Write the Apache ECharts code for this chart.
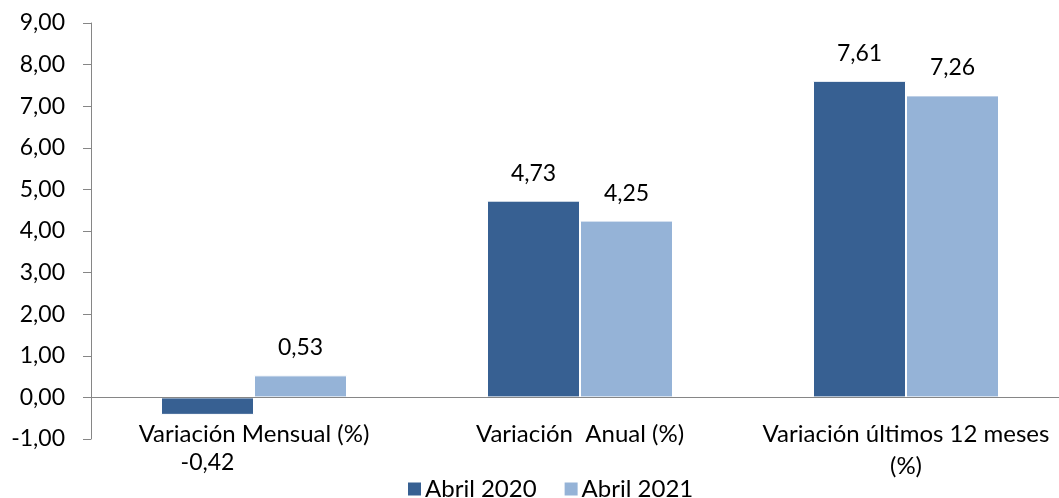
<!DOCTYPE html>
<html>
<head>
<meta charset="utf-8">
<script src="https://cdn.jsdelivr.net/npm/echarts@6/dist/echarts.min.js"></script>
<style>html,body{margin:0;padding:0;background:#fff;overflow:hidden;width:1059px;height:498px}#c{width:1069px;height:498px}</style>
</head>
<body>
<div id="c"></div>
<script>
const categories = ['Variación Mensual (%)', 'Variación  Anual (%)', 'Variación últimos 12 meses\n(%)'];
const seriesNames = ['Abril 2020', 'Abril 2021'];
const abril2020 = [-0.42, 4.73, 7.61];
const abril2021 = [0.53, 4.25, 7.26];
const yMin = -1, yMax = 9, yStep = 1;

const FONT = 'Lato';
const fmt = v => Number(v).toFixed(2).replace('.', ',');
const chart = echarts.init(document.getElementById('c'));

function mkData(arr) {
  return arr.map(v => v < 0
    ? { value: v, label: { position: 'bottom', distance: 36 } }
    : v);
}

chart.setOption({
  animation: false,
  textStyle: { fontFamily: FONT },
  grid: { left: 91, right: 0, top: 23, bottom: 59, containLabel: false },
  legend: {
    data: seriesNames,
    left: 401, top: 472,
    itemWidth: 15, itemHeight: 15, itemGap: 26,
    icon: 'rect',
    textStyle: { fontFamily: FONT, fontSize: 24, color: '#000', padding: [0, 0, 0, -2] }
  },
  xAxis: {
    type: 'category',
    data: categories,
    axisLine: { show: false, onZero: false },
    axisTick: { show: false },
    axisLabel: { fontFamily: FONT, fontSize: 24, color: '#000', margin: -21, lineHeight: 32, interval: 0 }
  },
  yAxis: {
    type: 'value',
    min: yMin, max: yMax, interval: yStep,
    axisLine: { show: true, lineStyle: { color: '#868686', width: 1 } },
    axisTick: { show: true, length: 8, lineStyle: { color: '#868686' } },
    splitLine: { show: false },
    axisLabel: { fontFamily: FONT, fontSize: 23, color: '#000', margin: 26, formatter: fmt }
  },
  series: [
    {
      name: seriesNames[0], type: 'bar', data: mkData(abril2020),
      barWidth: 93, barGap: '0%',
      itemStyle: { color: '#376092', borderColor: '#ffffff', borderWidth: 1 },
      label: { show: true, position: 'top', distance: 16, fontFamily: FONT, fontSize: 23, color: '#000', formatter: p => fmt(p.value) },
      markLine: {
        silent: true, symbol: 'none', label: { show: false },
        lineStyle: { color: '#868686', type: 'solid', width: 1 },
        data: [{ yAxis: 0 }]
      }
    },
    {
      name: seriesNames[1], type: 'bar', data: mkData(abril2021),
      barWidth: 93,
      itemStyle: { color: '#95B3D7', borderColor: '#ffffff', borderWidth: 1 },
      label: { show: true, position: 'top', distance: 16, fontFamily: FONT, fontSize: 23, color: '#000', formatter: p => fmt(p.value) }
    }
  ]
});
</script>
</body>
</html>
